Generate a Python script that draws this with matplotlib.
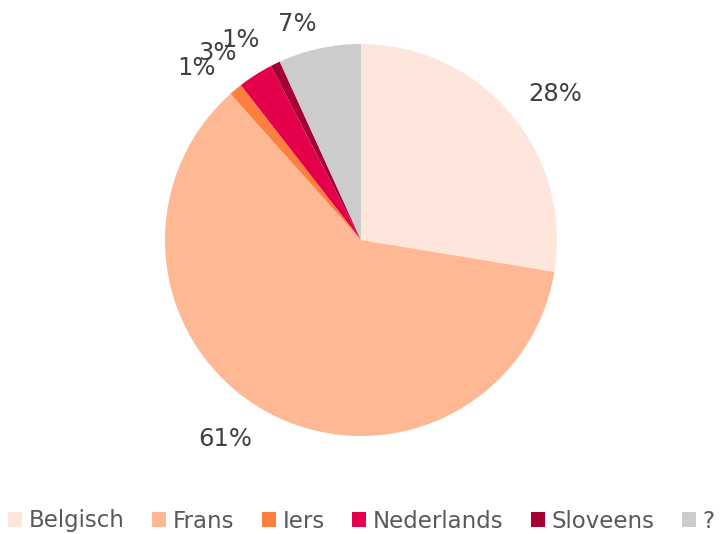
import matplotlib
matplotlib.use("Agg")
import matplotlib.pyplot as plt
import numpy as np
from matplotlib.patches import Patch

categories = ["Belgisch", "Frans", "Iers", "Nederlands", "Sloveens", "?"]
values = [27.6, 60.8, 1.1, 2.9, 0.8, 6.8]
labels = ["28%", "61%", "1%", "3%", "1%", "7%"]
colors = ["#FFE6DC", "#FFB894", "#FF7F3F", "#E5004C", "#A50034", "#CCCCCC"]

# label placement (in pie-radius units, relative to centre)
label_pos = [(0.990, 0.745), (-0.694, -1.015), (-0.837, 0.878),
             (-0.735, 0.954), (-0.617, 1.020), (-0.327, 1.102)]

W, H = 723, 534
fig = plt.figure(figsize=(W / 100, H / 100), dpi=100)
cx, cy, R = 361, 240, 196
ax = fig.add_axes([(cx - R) / W, (H - cy - R) / H, 2 * R / W, 2 * R / H])
wedges, texts = ax.pie(values, colors=colors, labels=labels, startangle=90,
                       counterclock=False, labeldistance=1.21, radius=1,
                       wedgeprops=dict(linewidth=0),
                       textprops=dict(fontsize=17.5, color="#404040"))
for t, p in zip(texts, label_pos):
    t.set_position(p)
    t.set_ha("center")
    t.set_va("center")
ax.set_xlim(-1, 1)
ax.set_ylim(-1, 1)
ax.set_aspect("equal")
ax.axis("off")

handles = [Patch(facecolor=c, edgecolor="none") for c in colors]
fig.legend(handles, categories, loc="center", ncol=6, frameon=False,
           bbox_to_anchor=(0.5, 13 / H), fontsize=16.5, labelcolor="#595959",
           handlelength=0.6, handleheight=0.6, handletextpad=0.3,
           columnspacing=1.2, borderpad=0)

fig.savefig("out.png", dpi=100)
